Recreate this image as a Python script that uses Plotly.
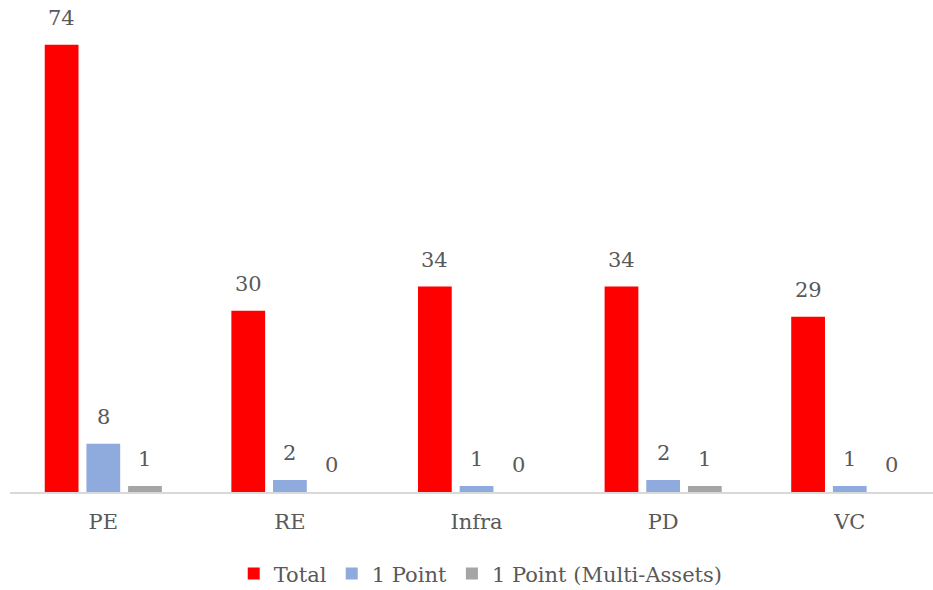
import plotly.graph_objects as go

categories = ["PE", "RE", "Infra", "PD", "VC"]
total = [74, 30, 34, 34, 29]
one_point = [8, 2, 1, 2, 1]
one_point_multi = [1, 0, 0, 1, 0]

series = [
    ("Total", total, "#FF0000"),
    ("1 Point", one_point, "#8FAADC"),
    ("1 Point (Multi-Assets)", one_point_multi, "#A5A5A5"),
]

FONT = "DejaVu Serif"
TXT = "#595959"
SIZE = 21

fig = go.Figure()
for name, vals, col in series:
    fig.add_trace(go.Bar(
        x=categories, y=vals, name=name, marker_color=col,
        marker_line_width=0,
    ))

slot = 186.6 * (1 - 0.33) / 3
for i, (name, vals, col) in enumerate(series):
    for c, v in zip(categories, vals):
        fig.add_annotation(
            x=c, y=v, text=str(v), showarrow=False,
            xshift=(i - 1) * slot, yshift=13, yanchor="bottom",
            font=dict(family=FONT, size=SIZE, color=TXT),
        )

fig.update_layout(
    width=933, height=590,
    margin=dict(l=10, r=0, t=20, b=98, autoexpand=False),
    paper_bgcolor="white", plot_bgcolor="white",
    barmode="group", bargap=0.33, bargroupgap=0.19,
    font=dict(family=FONT, size=SIZE, color=TXT),
    showlegend=True,
    legend=dict(
        orientation="h", x=0.51, xanchor="center", y=-0.13, yanchor="top",
        font=dict(family=FONT, size=SIZE, color=TXT),
        itemwidth=30, traceorder="normal",
    ),
    xaxis=dict(
        type="category", range=[-0.5, 4.446],
        showline=True, linecolor="#D9D9D9", linewidth=2,
        ticks="outside", ticklen=10, tickcolor="rgba(0,0,0,0)",
        showgrid=False, zeroline=False, automargin=False,
        tickfont=dict(family=FONT, size=SIZE, color=TXT),
    ),
    yaxis=dict(
        range=[0, 78.1], visible=False, showgrid=False, zeroline=False,
    ),
)

fig.write_html(
    "out.html",
    config={"displayModeBar": False},
    post_script="document.body.style.margin='0';document.body.style.overflow='hidden';",
)
